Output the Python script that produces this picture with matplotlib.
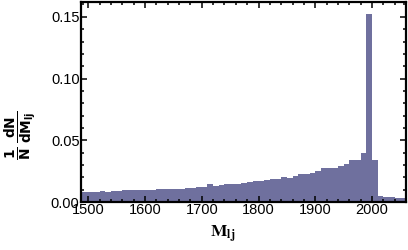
# Normalised M_lj distribution, histogram with 10 GeV bins.

import matplotlib
matplotlib.use("Agg")
import matplotlib.pyplot as plt
from matplotlib.ticker import MultipleLocator
import numpy as np

# left bin edges (GeV) and normalised heights 1/N dN/dM
bin_left = list(range(1480, 2060, 10))
heights = [0.0079, 0.0079, 0.0079, 0.0079, 0.0090, 0.0079, 0.0087, 0.0087,
           0.0095, 0.0095, 0.0095, 0.0095, 0.0095, 0.0101, 0.0109, 0.0109,
           0.0109, 0.0109, 0.0109, 0.0117, 0.0117, 0.0125, 0.0125, 0.0144,
           0.0133, 0.0141, 0.0149, 0.0149, 0.0149, 0.0157, 0.0165, 0.0173,
           0.0173, 0.0181, 0.0190, 0.0190, 0.0206, 0.0198, 0.0214, 0.0230,
           0.0230, 0.0238, 0.0254, 0.0278, 0.0278, 0.0278, 0.0294, 0.0310,
           0.0343, 0.0343, 0.0399, 0.1523, 0.0343, 0.0052, 0.0044, 0.0044,
           0.0036, 0.0036]
bin_width = 10
xticks = [1500, 1600, 1700, 1800, 1900, 2000]
yticks = [0.00, 0.05, 0.10, 0.15]

plt.rcParams['font.family'] = ['Liberation Sans', 'DejaVu Sans']

fig = plt.figure(figsize=(4.08, 2.5), dpi=100)
ax = fig.add_axes([0.1985, 0.192, 0.7965, 0.8])

ax.bar(bin_left, heights, width=bin_width, align='edge',
       color='#6f709e', linewidth=0)

ax.set_xlim(1487, 2060)
ax.set_ylim(0, 0.162)
ax.set_xticks(xticks)
ax.set_yticks(yticks)
ax.set_yticklabels(['%.2f' % v for v in yticks])
ax.xaxis.set_minor_locator(MultipleLocator(20))
ax.yaxis.set_minor_locator(MultipleLocator(0.01))

for s in ax.spines.values():
    s.set_linewidth(1.6)
ax.tick_params(which='both', direction='in', top=True, right=True,
               labelsize=10.5, width=1.1)
ax.tick_params(which='major', length=4.5, pad=1)
ax.tick_params(which='minor', length=2.5)

fig.text(0.545, 0.064, r'$\mathbf{M}_{\mathbf{lj}}$', fontsize=12.5,
         math_fontfamily='stix', ha='center', va='center')
fig.text(0.05, 0.46, r'$\frac{\mathbf{1}}{\mathbf{N}}\,\frac{\mathbf{dN}}{\mathbf{dM_{lj}}}$',
         fontsize=14, math_fontfamily='dejavusans', rotation=90,
         ha='center', va='center')

fig.savefig('out.png', dpi=100)
